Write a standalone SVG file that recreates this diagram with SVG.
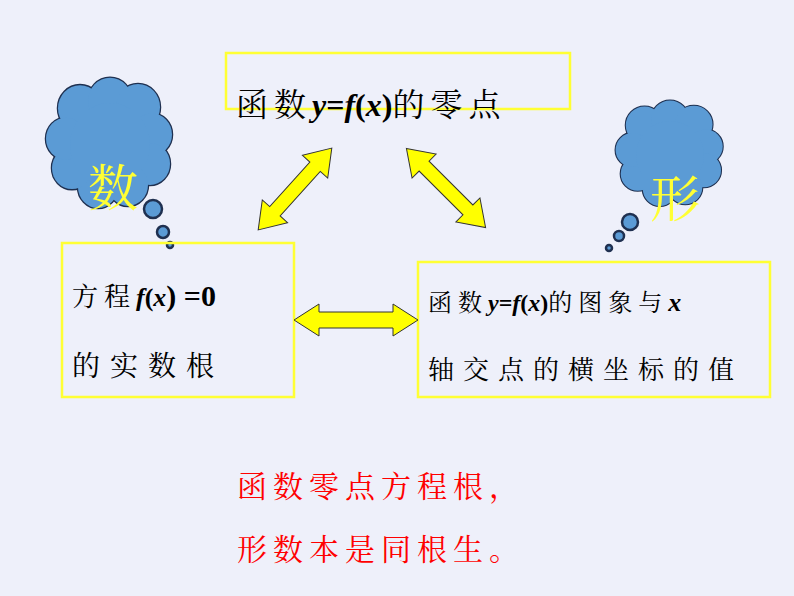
<svg xmlns="http://www.w3.org/2000/svg" width="794" height="596" viewBox="0 0 794 596">
<style>
.box{fill:none;stroke:#FFFF33;stroke-width:2.5}
.cj{font-family:"Noto Serif CJK SC","Noto Sans CJK SC",serif;fill:#000}
.m{font-family:"Liberation Serif",serif;font-weight:bold;font-style:italic;letter-spacing:0}
.mb{font-family:"Liberation Serif",serif;font-weight:bold;letter-spacing:0}
.arr{fill:#FFFF00;stroke:#333;stroke-width:1}
.co{fill:#5B9BD5;stroke:#1F3050;stroke-width:2.5}
.cf{fill:#5B9BD5}
</style>
<defs>
<g id="cloud">
<circle cx="-30" cy="-35" r="22"/><circle cx="0" cy="-42" r="22"/><circle cx="28" cy="-36" r="22"/>
<circle cx="42" cy="-10" r="20"/><circle cx="40" cy="18" r="20"/><circle cx="18" cy="38" r="20"/>
<circle cx="-12" cy="40" r="20"/><circle cx="-38" cy="22" r="20"/><circle cx="-44" cy="-6" r="20"/>
<circle cx="0" cy="0" r="40"/>
</g>
</defs>
<rect width="794" height="596" fill="#EEF0FA"/>
<g id="cloud-left">
<use href="#cloud" transform="translate(110,145) scale(1,1.05)" class="co"/>
<use href="#cloud" transform="translate(110,145) scale(1,1.05)" class="cf"/>
<circle cx="153" cy="209" r="9" class="co" stroke-width="1.5"/>
<circle cx="163" cy="232" r="6" class="co" stroke-width="1.5"/>
<circle cx="170" cy="245" r="3" class="co" stroke-width="1"/>
<text x="88" y="206" font-size="50" fill="#FFFF33" font-family="Noto Serif CJK SC,Noto Sans CJK SC,serif">数</text>
</g>
<g id="cloud-right">
<use href="#cloud" transform="translate(670,155) scale(0.85)" class="co"/>
<use href="#cloud" transform="translate(670,155) scale(0.85)" class="cf"/>
<circle cx="630" cy="222" r="8" class="co" stroke-width="1.5"/>
<circle cx="619" cy="236" r="5" class="co" stroke-width="1.5"/>
<circle cx="609" cy="248" r="3" class="co" stroke-width="1"/>
<text x="650" y="217" font-size="50" fill="#FFFF33" font-family="Noto Serif CJK SC,Noto Sans CJK SC,serif">形</text>
</g>
<g id="top-node">
<rect x="226" y="53" width="344" height="56" class="box"/>
<text x="236" y="116" font-size="32" class="cj"><tspan letter-spacing="6">函数</tspan><tspan class="m">y</tspan><tspan class="mb">=</tspan><tspan class="m">f</tspan><tspan class="mb">(</tspan><tspan class="m">x</tspan><tspan class="mb">)</tspan><tspan letter-spacing="6">的零点</tspan></text>
</g>
<g id="left-node">
<rect x="62" y="243" width="232" height="154" class="box"/>
<text x="72" y="306" font-size="26" class="cj"><tspan letter-spacing="6">方程</tspan><tspan class="m">f</tspan><tspan class="mb">(</tspan><tspan class="m">x</tspan><tspan class="mb" font-size="30">) =0</tspan></text>
<text x="72" y="376" font-size="28" class="cj" letter-spacing="10">的实数根</text>
</g>
<g id="right-node">
<rect x="418" y="262" width="352" height="135" class="box"/>
<text x="428" y="311" font-size="24" class="cj"><tspan letter-spacing="6">函数</tspan><tspan class="m">y</tspan><tspan class="mb">=</tspan><tspan class="m">f</tspan><tspan class="mb">(</tspan><tspan class="m">x</tspan><tspan class="mb">)</tspan><tspan letter-spacing="6">的图象与</tspan><tspan class="m" font-size="26">x</tspan></text>
<text x="428" y="379" font-size="26" class="cj" letter-spacing="9">轴交点的横坐标的值</text>
</g>
<g id="connectors">
<path class="arr" transform="translate(295,189) rotate(-48)" d="M-55,0 L-30,-17 L-30,-7 L30,-7 L30,-17 L55,0 L30,17 L30,7 L-30,7 L-30,17 Z"/>
<path class="arr" transform="translate(446,188) rotate(45)" d="M-56,0 L-31,-17 L-31,-7 L31,-7 L31,-17 L56,0 L31,17 L31,7 L-31,7 L-31,17 Z"/>
<path class="arr" transform="translate(356,320)" d="M-62,0 L-37,-16 L-37,-8 L37,-8 L37,-16 L62,0 L37,16 L37,8 L-37,8 L-37,16 Z"/>
</g>
<g id="poem" font-size="30" fill="#FF0000" font-family="Noto Serif CJK SC,Noto Sans CJK SC,serif" letter-spacing="6">
<text x="237" y="497">函数零点方程根，</text>
<text x="237" y="560">形数本是同根生。</text>
</g>
</svg>
